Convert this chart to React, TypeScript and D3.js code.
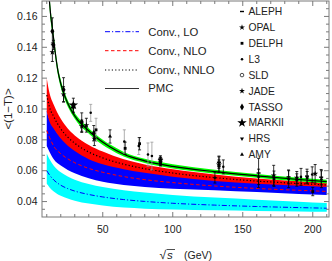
import React from "react";
import * as d3 from "d3";

// ---------- theory curves ----------
const gridE = [10, 12, 15, 20, 25, 30, 40, 50, 65, 80, 100, 130, 160, 190, 210];
const loMid = [0.06, 0.0572, 0.054, 0.0506, 0.0484, 0.0468, 0.0446, 0.043, 0.0413, 0.0401, 0.0389, 0.0377, 0.0368, 0.0361, 0.0357];
const loHigh = [0.0712, 0.0675, 0.0632, 0.059, 0.0562, 0.0542, 0.0514, 0.0494, 0.0474, 0.0458, 0.0443, 0.0426, 0.0412, 0.0399, 0.039];
const loLow = [0.0515, 0.0492, 0.0466, 0.0438, 0.042, 0.0406, 0.0387, 0.0374, 0.0361, 0.0354, 0.0348, 0.0343, 0.0339, 0.0336, 0.0334];
const nloMid = [0.086, 0.0815, 0.0759, 0.071, 0.0677, 0.0652, 0.0615, 0.059, 0.0562, 0.0542, 0.0523, 0.0501, 0.0485, 0.0473, 0.0466];
const nloHigh = [0.099, 0.093, 0.088, 0.0815, 0.077, 0.0735, 0.0682, 0.065, 0.0618, 0.0594, 0.0569, 0.0541, 0.0523, 0.051, 0.0502];
const nloLow = [0.076, 0.0722, 0.0674, 0.0633, 0.0605, 0.0584, 0.0551, 0.0528, 0.0507, 0.0494, 0.0483, 0.0474, 0.0462, 0.0449, 0.0443];
const nnloMid = [0.109, 0.101, 0.095, 0.0872, 0.0818, 0.0778, 0.0721, 0.0683, 0.0642, 0.0613, 0.0585, 0.0555, 0.0533, 0.0517, 0.0508];
const nnloHalf = [0.0108, 0.0092, 0.0078, 0.0064, 0.0056, 0.0051, 0.0046, 0.0041, 0.0032, 0.0027, 0.0024, 0.0021, 0.0017, 0.0014, 0.0013];

const pmcE = [10, 11, 12, 13, 14, 16, 18, 20, 23, 27, 32, 38, 45, 55, 65, 80, 100, 130, 160, 190, 210];
const pmcMid = [0.19, 0.18, 0.169, 0.159, 0.1525, 0.137, 0.1245, 0.1165, 0.108, 0.1, 0.093, 0.0875, 0.0818, 0.0755, 0.0707, 0.0664, 0.0628, 0.0594, 0.0567, 0.0543, 0.0529];
const pmcHalf = [0.005, 0.0045, 0.004, 0.0037, 0.0034, 0.003, 0.0027, 0.0025, 0.0022, 0.002, 0.0019, 0.0018, 0.0017, 0.0016, 0.0015, 0.0014, 0.0014, 0.0013, 0.0012, 0.0012, 0.0012];

// ---------- axes ----------
const xTicks = [50, 100, 150, 200];
const xTickLabels = ["50", "100", "150", "200"];
const yTicks = [0.04, 0.06, 0.08, 0.1, 0.12, 0.14, 0.16];
const yTickLabels = ["0.04", "0.06", "0.08", "0.10", "0.12", "0.14", "0.16"];

// ---------- experimental data ----------
const expNames = ["ALEPH", "OPAL", "DELPH", "L3", "SLD", "JADE", "TASSO", "MARKII", "HRS", "AMY"];
const ptExp = [
  "TASSO", "TASSO", "JADE", "TASSO", "JADE", "MARKII", "HRS", "TASSO", "JADE", "JADE", "TASSO", "JADE", "AMY",
  "L3", "DELPH", "L3", "DELPH", "L3", "DELPH", "L3", "L3",
  "ALEPH", "OPAL", "DELPH", "L3", "SLD",
  "L3", "ALEPH", "OPAL", "DELPH", "L3",
  "ALEPH", "L3", "OPAL", "DELPH", "ALEPH", "L3", "OPAL", "DELPH", "L3", "ALEPH", "DELPH", "L3", "DELPH", "OPAL", "ALEPH", "L3",
];
const ptE = [
  14.0, 14.8, 14.0, 22.0, 22.0, 29.0, 29.0, 35.0, 35.0, 38.3, 43.6, 44.0, 55.2,
  41.4, 45.2, 65.4, 66.0, 75.7, 76.3, 82.3, 85.1,
  91.2, 91.2, 91.2, 91.2, 91.2,
  130.1, 133.0, 133.0, 133.0, 136.1,
  161.3, 161.3, 172.1, 172.3, 182.7, 182.8, 188.6, 188.6, 191.6, 195.9, 196.0, 199.6, 200.0, 201.7, 206.0, 206.2,
];
const ptVal = [
  0.1504, 0.1415, 0.1368, 0.1125, 0.1095, 0.1025, 0.1005, 0.0915, 0.0888, 0.0895, 0.0843, 0.0808, 0.0822,
  0.0975, 0.0865, 0.079, 0.0745, 0.076, 0.0775, 0.0705, 0.0695,
  0.0662, 0.067, 0.0648, 0.0656, 0.0677,
  0.0555, 0.0655, 0.064, 0.063, 0.0625,
  0.0585, 0.056, 0.057, 0.0548, 0.056, 0.0545, 0.0555, 0.054, 0.056, 0.0565, 0.0555, 0.0575, 0.0465, 0.058, 0.0558, 0.0545,
];
const ptErr = [
  0.0087, 0.003, 0.006, 0.0078, 0.005, 0.0045, 0.003, 0.006, 0.004, 0.0045, 0.005, 0.0045, 0.0043,
  0.0055, 0.0075, 0.0075, 0.004, 0.0055, 0.004, 0.0075, 0.009,
  0.0015, 0.0018, 0.0015, 0.0025, 0.002,
  0.0035, 0.004, 0.005, 0.004, 0.0045,
  0.0095, 0.005, 0.0065, 0.005, 0.0045, 0.0055, 0.004, 0.004, 0.0055, 0.0045, 0.004, 0.005, 0.0027, 0.006, 0.005, 0.0055,
];
const ptRad = [
  false, false, false, false, false, false, false, false, false, false, false, false, false,
  true, true, true, false, true, false, true, true,
  false, false, false, false, false,
  false, false, false, false, false,
  false, false, false, false, false, false, false, false, false, false, false, false, false, false, false, false,
];

const theoryLabels = ["Conv., LO", "Conv., NLO", "Conv., NNLO", "PMC"];

// ---------- layout ----------
const W = 332, H = 261;
const PL = 42, PR = 329, PT = 1, PB = 217;
const FONT = "'Liberation Sans', Arial, sans-serif";

const x = d3.scaleLinear().domain([6.6, 211.6]).range([PL, PR]);
const y = d3.scaleLinear().domain([0.03, 0.17]).range([PB, PT]);

function bandPath(es: number[], lo: number[], hi: number[]) {
  return d3
    .area<number>()
    .x((_, i) => x(es[i]))
    .y0((_, i) => y(lo[i]))
    .y1((_, i) => y(hi[i]))
    .curve(d3.curveMonotoneX)(es) as string;
}
function linePath(es: number[], vs: number[]) {
  return d3
    .line<number>()
    .x((_, i) => x(es[i]))
    .y((_, i) => y(vs[i]))
    .curve(d3.curveMonotoneX)(es) as string;
}

function marker(name: string, cx: number, cy: number, key: string) {
  const sym = (t: d3.SymbolType, s: number, rot = 0) => (
    <path
      key={key}
      d={d3.symbol().type(t).size(s)() as string}
      transform={`translate(${cx},${cy}) rotate(${rot})`}
      fill="#000"
    />
  );
  switch (name) {
    case "ALEPH":
      return <rect key={key} x={cx - 2} y={cy - 0.7} width={4} height={1.4} fill="#000" />;
    case "OPAL":
      return sym(d3.symbolStar, 11);
    case "DELPH":
      return sym(d3.symbolSquare, 8);
    case "L3":
      return sym(d3.symbolCircle, 5);
    case "SLD":
      return <circle key={key} cx={cx} cy={cy} r={1.8} fill="none" stroke="#000" strokeWidth={0.7} />;
    case "JADE":
      return sym(d3.symbolStar, 11);
    case "TASSO":
      return sym(d3.symbolDiamond, 14);
    case "MARKII":
      return sym(d3.symbolStar, 28);
    case "HRS":
      return sym(d3.symbolTriangle, 7, 180);
    case "AMY":
      return sym(d3.symbolTriangle, 7);
    default:
      return sym(d3.symbolCircle, 5);
  }
}

export default function App() {
  const nnloHi = nnloMid.map((v, i) => v + nnloHalf[i]);
  const nnloLo = nnloMid.map((v, i) => v - nnloHalf[i]);
  const pmcHi = pmcMid.map((v, i) => v + pmcHalf[i]);
  const pmcLo = pmcMid.map((v, i) => v - pmcHalf[i]);

  const xMinor = d3.range(10, 211, 10).filter((v) => v % 50 !== 0);
  const yMinor = d3.range(0.035, 0.17, 0.005).filter((v) => Math.abs(v * 50 - Math.round(v * 50)) > 1e-6);

  const frame = "#7a7a7a";
  const textCol = "#222";

  const legendStyles = [
    { stroke: "#0000ff", dash: "5 2 1.2 2" },
    { stroke: "#ff0000", dash: "3.5 2.5" },
    { stroke: "#000", dash: "1.2 2.2" },
    { stroke: "#333", dash: "" },
  ];
  const legendY = [31.7, 50.7, 70, 88.5];

  return (
    <svg width={W} height={H} style={{ position: "absolute", left: 0, top: 0, background: "#fff" }}>
      <defs>
        <clipPath id="plotClip">
          <rect x={PL} y={PT} width={PR - PL} height={PB - PT} />
        </clipPath>
      </defs>
      <g clipPath="url(#plotClip)">
        <path d={bandPath(gridE, loLow, loHigh)} fill="#00ffff" />
        <path d={bandPath(gridE, nloLow, nloHigh)} fill="#0000ff" />
        <path d={bandPath(gridE, nnloLo, nnloHi)} fill="#ff0000" />
        <path d={bandPath(pmcE, pmcLo, pmcHi)} fill="#00ff00" />
        <path d={linePath(gridE, loMid)} fill="none" stroke="#0000ff" strokeWidth={1} strokeDasharray="5 2 1.2 2" />
        <path d={linePath(gridE, nloMid)} fill="none" stroke="#ff0000" strokeWidth={1} strokeDasharray="3.5 2.5" />
        <path d={linePath(gridE, nnloMid)} fill="none" stroke="#000" strokeWidth={1.2} strokeDasharray="1.2 2.2" />
        <path d={linePath(pmcE, pmcMid)} fill="none" stroke="#000" strokeWidth={1.2} />
        {ptE.map((e, i) => {
          const cx = x(e);
          const col = ptRad[i] ? "#9a9a9a" : "#000";
          const y1 = y(ptVal[i] + ptErr[i]);
          const y2 = y(ptVal[i] - ptErr[i]);
          return (
            <g key={"eb" + i}>
              <line x1={cx} x2={cx} y1={y1} y2={y2} stroke={col} strokeWidth={0.8} />
              <line x1={cx - 1.5} x2={cx + 1.5} y1={y1} y2={y1} stroke={col} strokeWidth={0.8} />
              <line x1={cx - 1.5} x2={cx + 1.5} y1={y2} y2={y2} stroke={col} strokeWidth={0.8} />
            </g>
          );
        })}
        {ptE.map((e, i) => marker(ptExp[i], x(e), y(ptVal[i]), "pm" + i))}
      </g>

      {/* frame */}
      <rect x={PL} y={PT} width={PR - PL} height={PB - PT} fill="none" stroke={frame} strokeWidth={1} />
      {xTicks.map((t) => (
        <g key={"xt" + t}>
          <line x1={x(t)} x2={x(t)} y1={PB} y2={PB - 5} stroke={frame} />
          <line x1={x(t)} x2={x(t)} y1={PT} y2={PT + 5} stroke={frame} />
        </g>
      ))}
      {xMinor.map((t) => (
        <g key={"xm" + t}>
          <line x1={x(t)} x2={x(t)} y1={PB} y2={PB - 3} stroke={frame} />
          <line x1={x(t)} x2={x(t)} y1={PT} y2={PT + 3} stroke={frame} />
        </g>
      ))}
      {yTicks.map((t) => (
        <g key={"yt" + t}>
          <line x1={PL} x2={PL + 5} y1={y(t)} y2={y(t)} stroke={frame} />
          <line x1={PR} x2={PR - 5} y1={y(t)} y2={y(t)} stroke={frame} />
        </g>
      ))}
      {yMinor.map((t) => (
        <g key={"ym" + t}>
          <line x1={PL} x2={PL + 3} y1={y(t)} y2={y(t)} stroke={frame} />
          <line x1={PR} x2={PR - 3} y1={y(t)} y2={y(t)} stroke={frame} />
        </g>
      ))}
      {xTicks.map((t, i) => (
        <text key={"xl" + t} x={x(t)} y={232.5} textAnchor="middle" fontFamily={FONT} fontSize={10.5} fill={textCol}>
          {xTickLabels[i]}
        </text>
      ))}
      {yTicks.map((t, i) => (
        <text key={"yl" + t} x={37.5} y={y(t)} dy="0.35em" textAnchor="end" fontFamily={FONT} fontSize={10.5} fill={textCol}>
          {yTickLabels[i]}
        </text>
      ))}

      {/* axis titles */}
      <text transform={`translate(11.5,${(PT + PB) / 2}) rotate(-90)`} textAnchor="middle" fontFamily={FONT} fontSize={11.5} fill={textCol}>
        {"<(1−T)>"}
      </text>
      <g fontFamily={FONT} fill={textCol}>
        <text x={159.5} y={259} fontSize={12}>√</text>
        <line x1={166.5} x2={175} y1={249.5} y2={249.5} stroke={textCol} strokeWidth={0.8} />
        <text x={167} y={259} fontSize={11.5} fontStyle="italic">s</text>
        <text x={184} y={259} fontSize={10.5}>(GeV)</text>
      </g>

      {/* theory legend */}
      {theoryLabels.map((lab, i) => (
        <g key={"tl" + i}>
          <line x1={105} x2={139} y1={legendY[i]} y2={legendY[i]} stroke={legendStyles[i].stroke} strokeWidth={1} strokeDasharray={legendStyles[i].dash} />
          <text x={148.3} y={legendY[i]} dy="0.35em" fontFamily={FONT} fontSize={11.3} fill={textCol}>
            {lab}
          </text>
        </g>
      ))}

      {/* data legend */}
      {expNames.map((n, i) => {
        const ly = 11.5 + i * 15.9;
        return (
          <g key={"dl" + n}>
            {marker(n, 242, ly, "lm" + n)}
            <text x={248.5} y={ly} dy="0.35em" fontFamily={FONT} fontSize={10.3} fill={textCol}>
              {n}
            </text>
          </g>
        );
      })}
    </svg>
  );
}
